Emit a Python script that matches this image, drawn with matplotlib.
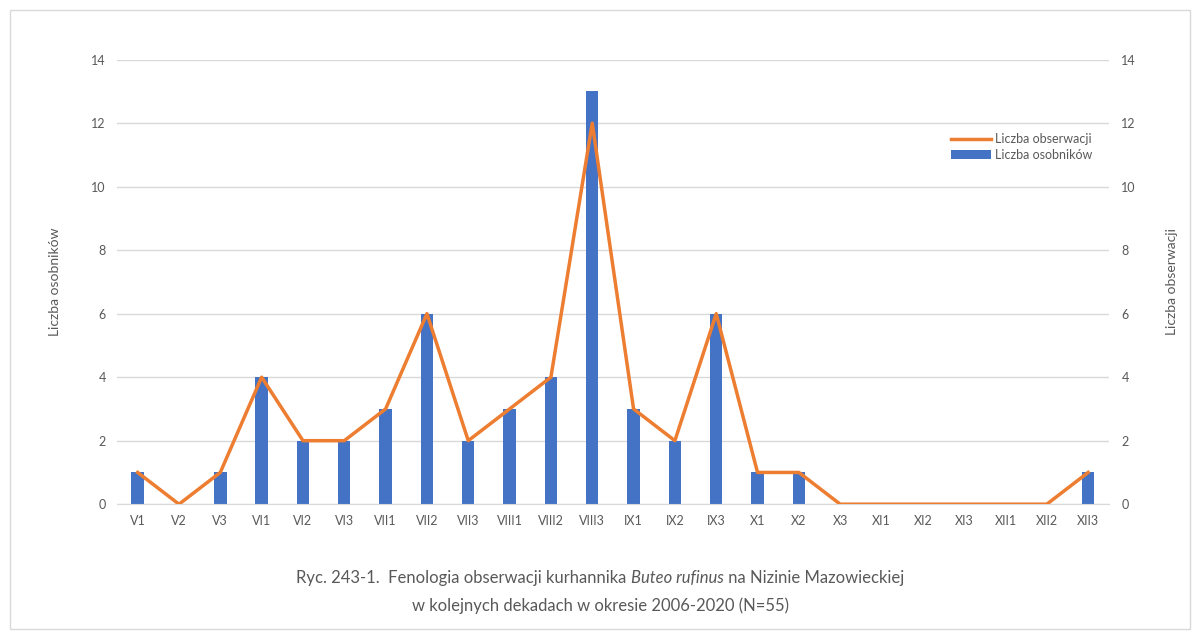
import matplotlib
matplotlib.use("Agg")
import matplotlib.pyplot as plt
from matplotlib.patches import Rectangle
import numpy as np

categories = ["V1", "V2", "V3", "VI1", "VI2", "VI3", "VII1", "VII2", "VII3",
              "VIII1", "VIII2", "VIII3", "IX1", "IX2", "IX3", "X1", "X2", "X3",
              "XI1", "XI2", "XI3", "XII1", "XII2", "XII3"]
osobnikow = [1, 0, 1, 4, 2, 2, 3, 6, 2, 3, 4, 13, 3, 2, 6, 1, 1, 0, 0, 0, 0, 0, 0, 1]
obserwacji = [1, 0, 1, 4, 2, 2, 3, 6, 2, 3, 4, 12, 3, 2, 6, 1, 1, 0, 0, 0, 0, 0, 0, 1]
yticks = [0, 2, 4, 6, 8, 10, 12, 14]

plt.rcParams['font.family'] = ['Lato', 'DejaVu Sans']
gray = "#595959"
blue = "#4472C4"
orange = "#ED7D31"

fig = plt.figure(figsize=(12, 6.35), dpi=100)
ax = fig.add_axes([0.0975, 0.206, 0.8265, 0.70])
ax2 = ax.twinx()

x = np.arange(len(categories))
bars = ax.bar(x, osobnikow, width=0.3, color=blue, zorder=2, label="Liczba osobników")
line, = ax2.plot(x, obserwacji, color=orange, lw=2.5, zorder=3, label="Liczba obserwacji")

for a in (ax, ax2):
    a.set_ylim(0, 14)
    a.set_yticks(yticks)
    a.tick_params(axis='y', length=0, labelsize=9, colors=gray)
    for s in a.spines.values():
        s.set_visible(False)
ax.tick_params(axis='y', pad=8)
ax2.tick_params(axis='y', pad=9)
ax.spines['bottom'].set_visible(True)
ax.spines['bottom'].set_color("#D9D9D9")
ax.set_xlim(-0.5, len(categories) - 0.5)
ax.set_xticks(x)
ax.set_xticklabels(categories)
ax.tick_params(axis='x', length=0, labelsize=9, colors=gray, pad=8)
ax.grid(axis='y', color="#D9D9D9", lw=1, zorder=0)
ax.set_axisbelow(True)
ax2.set_zorder(ax.get_zorder() + 1)
ax2.patch.set_visible(False)

ax.set_ylabel("Liczba osobników", color=gray, fontsize=10, labelpad=22)
ax2.set_ylabel("Liczba obserwacji", color=gray, fontsize=10, labelpad=22)

leg = ax2.legend([line, bars], ["Liczba obserwacji", "Liczba osobników"],
                 loc="upper right", bbox_to_anchor=(0.995, 0.86), frameon=False,
                 fontsize=9, handlelength=3.2, handletextpad=0.3, labelspacing=0.3)
for t in leg.get_texts():
    t.set_color(gray)

# Border around the chart
fig.add_artist(Rectangle((0.008, 0.01), 0.984, 0.975, transform=fig.transFigure,
                         fill=False, edgecolor="#D9D9D9", lw=1))

# Caption with mixed styles
fig.canvas.draw()
renderer = fig.canvas.get_renderer()
parts = [("Ryc. 243-1.  Fenologia obserwacji kurhannika ", "normal"),
         ("Buteo rufinus", "italic"),
         (" na Nizinie Mazowieckiej", "normal")]
fs = 12
texts = []
widths = []
for s, st in parts:
    t = fig.text(0, 0, s, fontsize=fs, style=st, color=gray, va="baseline")
    bb = t.get_window_extent(renderer)
    texts.append(t)
    widths.append(bb.width)
total = sum(widths)
W = fig.bbox.width
xpos = (W - total) / 2
ybase = 1 - 583 / 635
for t, w in zip(texts, widths):
    t.set_position((xpos / W, ybase))
    xpos += w
fig.text(0.5, 1 - 611 / 635, "w kolejnych dekadach w okresie 2006-2020 (N=55)",
         fontsize=fs, color=gray, ha="center", va="baseline")

fig.savefig("out.png", dpi=100)
